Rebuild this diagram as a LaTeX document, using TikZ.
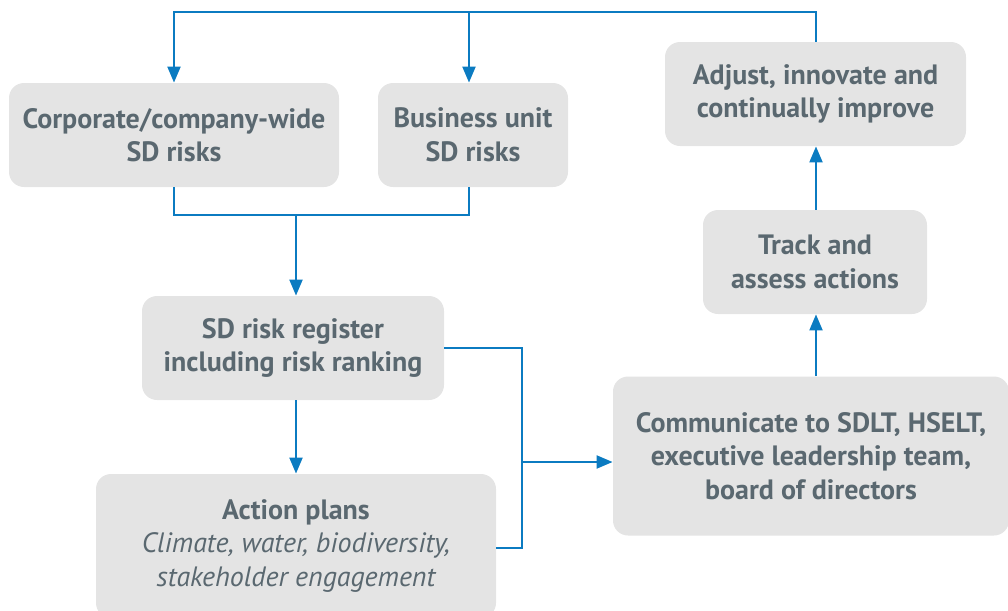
\documentclass[tikz,border=0pt]{standalone}
\usepackage{fontspec}
\setmainfont{PT Sans}
\usetikzlibrary{arrows.meta}
\definecolor{boxGray}{RGB}{228,228,228}
\definecolor{textGray}{RGB}{90,104,112}
\definecolor{flowBlue}{RGB}{11,123,193}

\begin{document}
\begin{tikzpicture}[x=0.5pt,y=-0.5pt,
  box/.style={rectangle,rounded corners=7.5pt,fill=boxGray,text=textGray,
    font=\fontsize{14}{16.8}\selectfont\bfseries,align=center,inner sep=0pt},
  flow/.style={draw=flowBlue,line width=1pt},
  arr/.style={flow,-{Triangle[length=8pt,width=6.5pt]}}]
\useasboundingbox (0,0) rectangle (1008,611);
\clip (0,0) rectangle (1008,611);

% Risk sources
\node[box,minimum width=165pt,minimum height=52pt] (corp) at (174,135) {Corporate/company-wide\\SD risks};
\node[box,minimum width=95pt,minimum height=52pt] (unit) at (473,135) {Business unit\\SD risks};

% Register and plans
\node[box,minimum width=151pt,minimum height=52pt] (register) at (293,348) {SD risk register\\including risk ranking};
\node[box,minimum width=200pt,minimum height=72pt] (plans) at (296,546) {Action plans\\{\mdseries\itshape Climate, water, biodiversity,}\\{\mdseries\itshape stakeholder engagement}};

% Follow-up
\node[box,minimum width=198pt,minimum height=79.5pt] (comm) at (811,456) {Communicate to SDLT, HSELT,\\executive leadership team,\\board of directors};
\node[box,minimum width=112pt,minimum height=52pt] (track) at (815,262) {Track and\\assess actions};
\node[box,minimum width=150.5pt,minimum height=52pt] (adjust) at (815.5,94) {Adjust, innovate and\\continually improve};

% Junction points
\coordinate (topL) at (174,12);
\coordinate (topM) at (469,12);
\coordinate (topR) at (816,12);
\coordinate (merge) at (296,215);
\coordinate (branch) at (522,462);
\coordinate (branchLow) at (522,548);

% Connections
\draw[arr] (adjust.north -| topR) -- (topR) -- (topL) -- (corp.north);
\draw[arr] (topM) -- (unit.north -| topM);
\draw[flow] (corp.south) |- (merge) -| (unit.south -| topM);
\draw[arr] (merge) -- (register.north -| merge);
\draw[arr] (register.south -| merge) -- (plans.north -| merge);
\draw[flow] (register.east) -| (branch) -- (branchLow) -- (plans.east |- branchLow);
\draw[arr] (branch) -- (comm.west |- branch);
\draw[arr] (comm.north -| topR) -- (track.south -| topR);
\draw[arr] (track.north -| topR) -- (adjust.south -| topR);
\end{tikzpicture}
\end{document}
